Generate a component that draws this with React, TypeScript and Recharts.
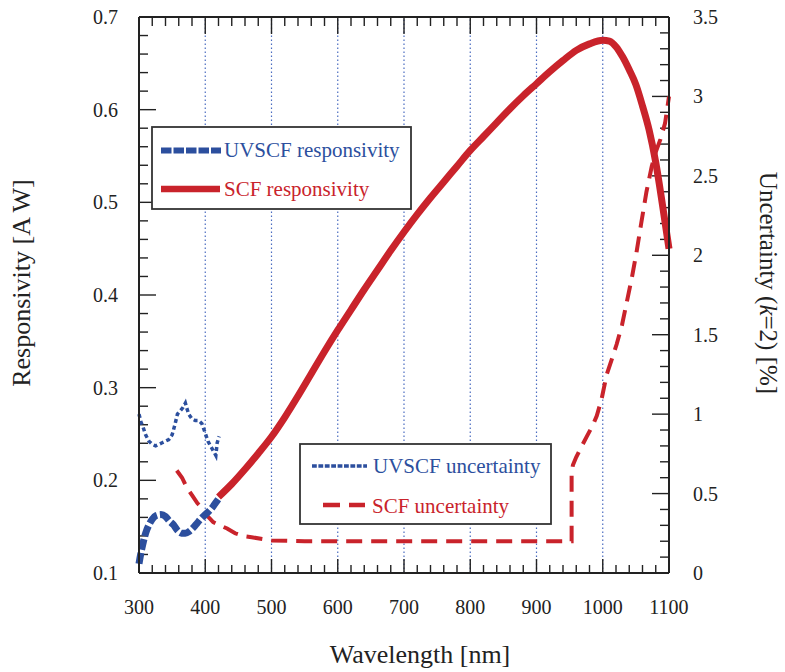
import React from 'react';
import { ComposedChart, Line, XAxis, YAxis, ReferenceLine } from 'recharts';

// ---- data ----
const scfWl = [420, 440, 460, 480, 500, 520, 540, 560, 580, 600, 620, 640, 660, 680, 700, 720, 740, 760, 780, 800, 820, 840, 860, 880, 900, 920, 940, 960, 980, 1000, 1010, 1020, 1030, 1040, 1050, 1060, 1070, 1080, 1090, 1100];
const scfResp = [0.182, 0.196, 0.212, 0.229, 0.247, 0.268, 0.291, 0.315, 0.339, 0.362, 0.384, 0.406, 0.427, 0.448, 0.468, 0.487, 0.505, 0.522, 0.539, 0.556, 0.571, 0.586, 0.601, 0.615, 0.628, 0.641, 0.653, 0.664, 0.671, 0.675, 0.674, 0.668, 0.657, 0.643, 0.627, 0.604, 0.578, 0.543, 0.498, 0.45];

const uvWl = [300, 303, 306, 310, 315, 320, 326, 333, 340, 346, 352, 358, 364, 370, 376, 382, 388, 394, 400, 406, 412, 418, 422];
const uvResp = [0.11, 0.122, 0.132, 0.143, 0.152, 0.158, 0.162, 0.163, 0.161, 0.156, 0.152, 0.146, 0.143, 0.143, 0.145, 0.149, 0.154, 0.159, 0.163, 0.167, 0.172, 0.178, 0.182];

const uvUncWl = [300, 303, 306, 310, 315, 320, 325, 330, 335, 340, 345, 350, 354, 358, 362, 366, 370, 372, 375, 380, 385, 390, 395, 400, 404, 408, 412, 416, 418, 421];
const uvUnc = [1.0, 0.95, 0.92, 0.87, 0.83, 0.81, 0.8, 0.81, 0.82, 0.83, 0.84, 0.87, 0.93, 1.0, 1.02, 1.04, 1.07, 1.04, 1.0, 0.97, 0.96, 0.96, 0.94, 0.88, 0.83, 0.8, 0.77, 0.74, 0.82, 0.86];

const scfUncWl = [357, 365, 372, 380, 388, 395, 403, 412, 422, 433, 445, 458, 470, 500, 550, 953, 953, 955, 960, 966, 976, 985, 991, 998, 1006, 1014, 1021, 1029, 1036, 1044, 1051, 1058, 1066, 1074, 1080, 1087, 1094, 1100];
const scfUnc = [0.645, 0.6, 0.54, 0.49, 0.44, 0.41, 0.36, 0.32, 0.3, 0.28, 0.25, 0.232, 0.225, 0.205, 0.2, 0.2, 0.63, 0.68, 0.73, 0.78, 0.86, 0.93, 0.99, 1.09, 1.25, 1.35, 1.44, 1.56, 1.7, 1.86, 2.02, 2.2, 2.4, 2.56, 2.65, 2.73, 2.83, 3.0];

const gridWl = [400, 500, 600, 700, 800, 900, 1000];
const xLabels = ['300', '400', '500', '600', '700', '800', '900', '1000', '1100'];
const leftLabels = ['0.1', '0.2', '0.3', '0.4', '0.5', '0.6', '0.7'];
const rightLabels = ['0', '0.5', '1', '1.5', '2', '2.5', '3', '3.5'];

// ---- axis ranges ----
const X_MIN = 300, X_MAX = 1100;
const L_MIN = 0.1, L_MAX = 0.7;
const R_MIN = 0, R_MAX = 3.5;

// ---- helpers ----
const zip = (xs: number[], vs: number[]) => xs.map((x, i) => ({ x, v: vs[i] }));
const range = (a: number, b: number, s: number) => {
  const out: number[] = [];
  const n = Math.round((b - a) / s);
  for (let i = 0; i <= n; i++) out.push(Math.round((a + i * s) * 1000) / 1000);
  return out;
};
const xTicks = range(X_MIN, X_MAX, 20);
const leftTicks = range(L_MIN, L_MAX, 0.02);
const rightTicks = range(R_MIN, R_MAX, 0.1);

const BLUE = '#2c4f9e';
const RED = '#c9232b';
const INK = '#222';
const FONT = "'Liberation Serif', 'Times New Roman', serif";

// chart frame (px) used only to express inward tick lengths in axis units
const CW = 785, CH = 672;
const M_TOP = 17, Y_LEFT_W = 139, Y_RIGHT_W = 116, X_H = 99;
const PLOT_W = CW - Y_LEFT_W - Y_RIGHT_W;
const PLOT_H = CH - M_TOP - X_H;
const pxToX = (px: number) => (px * (X_MAX - X_MIN)) / PLOT_W;
const pxToL = (px: number) => (px * (L_MAX - L_MIN)) / PLOT_H;

const majorIdx = (v: number, base: number, step: number) => {
  const k = (v - base) / step;
  return Math.abs(k - Math.round(k)) < 1e-6 ? Math.round(k) : -1;
};

const renderLeftTick = (p: any) => {
  const idx = majorIdx(Number(p.payload.value), 0.1, 0.1);
  if (idx < 0) return <g />;
  return (
    <text x={Number(p.x) - 21} y={Number(p.y)} dy="0.35em" textAnchor="end" fontSize={20} fill={INK} fontFamily={FONT}>
      {leftLabels[idx]}
    </text>
  );
};
const renderRightTick = (p: any) => {
  const idx = majorIdx(Number(p.payload.value), 0, 0.5);
  if (idx < 0) return <g />;
  return (
    <text x={Number(p.x) + 24} y={Number(p.y)} dy="0.35em" textAnchor="start" fontSize={20} fill={INK} fontFamily={FONT}>
      {rightLabels[idx]}
    </text>
  );
};
const renderBottomTick = (p: any) => {
  const idx = majorIdx(Number(p.payload.value), 300, 100);
  if (idx < 0) return <g />;
  return (
    <text x={Number(p.x)} y={Number(p.y) + 41} textAnchor="middle" fontSize={20} fill={INK} fontFamily={FONT}>
      {xLabels[idx]}
    </text>
  );
};

const tickStroke = { stroke: INK, strokeWidth: 1.4 };

export default function App() {
  const axisLine = { stroke: INK, strokeWidth: 2 };
  return (
    <div style={{ position: 'absolute', left: 0, top: 0, width: CW, height: CH, background: '#fff' }}>
      <ComposedChart width={CW} height={CH} margin={{ top: M_TOP, right: 0, bottom: 0, left: 0 }}>
        <XAxis
          dataKey="x"
          type="number"
          domain={[X_MIN, X_MAX]}
          ticks={xTicks}
          interval={0}
          height={X_H}
          tickSize={0}
          tickMargin={0}
          tickLine={false}
          axisLine={axisLine}
          tick={renderBottomTick}
        />
        <YAxis
          yAxisId="left"
          type="number"
          domain={[L_MIN, L_MAX]}
          ticks={leftTicks}
          interval={0}
          width={Y_LEFT_W}
          tickSize={0}
          tickMargin={0}
          tickLine={false}
          axisLine={axisLine}
          tick={renderLeftTick}
        />
        <YAxis
          yAxisId="right"
          orientation="right"
          type="number"
          domain={[R_MIN, R_MAX]}
          ticks={rightTicks}
          interval={0}
          width={Y_RIGHT_W}
          tickSize={0}
          tickMargin={0}
          tickLine={false}
          axisLine={axisLine}
          tick={renderRightTick}
        />
        {/* top frame */}
        <ReferenceLine yAxisId="left" y={L_MAX} stroke={INK} strokeWidth={2} />
        {/* vertical dotted grid */}
        {gridWl.map((g) => (
          <ReferenceLine key={`g${g}`} x={g} yAxisId="left" stroke="#4a6cc0" strokeWidth={1.2} strokeDasharray="1.5 2.5" />
        ))}
        {/* inward tick marks: bottom and top */}
        {xTicks.map((t) => {
          const major = majorIdx(t, 300, 100) >= 0;
          const lb = pxToL(major ? 14 : 8);
          const lt = pxToL(major ? 17 : 9);
          return [
            <ReferenceLine key={`b${t}`} yAxisId="left" segment={[{ x: t, y: L_MIN }, { x: t, y: L_MIN + lb }]} {...tickStroke} />,
            <ReferenceLine key={`t${t}`} yAxisId="left" segment={[{ x: t, y: L_MAX }, { x: t, y: L_MAX - lt }]} {...tickStroke} />,
          ];
        })}
        {/* inward tick marks: left */}
        {leftTicks.map((t) => {
          const major = majorIdx(t, 0.1, 0.1) >= 0;
          return (
            <ReferenceLine key={`l${t}`} yAxisId="left" segment={[{ x: X_MIN, y: t }, { x: X_MIN + pxToX(major ? 17 : 9), y: t }]} {...tickStroke} />
          );
        })}
        {/* inward tick marks: right */}
        {rightTicks.map((t) => {
          const major = majorIdx(t, 0, 0.5) >= 0;
          return (
            <ReferenceLine key={`r${t}`} yAxisId="right" segment={[{ x: X_MAX, y: t }, { x: X_MAX - pxToX(major ? 17 : 9), y: t }]} {...tickStroke} />
          );
        })}
        <Line
          data={zip(scfUncWl, scfUnc)}
          dataKey="v"
          yAxisId="right"
          type="linear"
          stroke={RED}
          strokeWidth={4}
          strokeDasharray="16 9"
          dot={false}
          isAnimationActive={false}
        />
        <Line
          data={zip(uvUncWl, uvUnc)}
          dataKey="v"
          yAxisId="right"
          type="linear"
          stroke={BLUE}
          strokeWidth={3.5}
          strokeDasharray="4 3"
          dot={false}
          isAnimationActive={false}
        />
        <Line
          data={zip(scfWl, scfResp)}
          dataKey="v"
          yAxisId="left"
          type="monotone"
          stroke={RED}
          strokeWidth={7}
          dot={false}
          isAnimationActive={false}
        />
        <Line
          data={zip(uvWl, uvResp)}
          dataKey="v"
          yAxisId="left"
          type="monotone"
          stroke={BLUE}
          strokeWidth={7}
          strokeDasharray="11 3"
          dot={false}
          isAnimationActive={false}
        />
      </ComposedChart>
      <svg width={CW} height={CH} style={{ position: 'absolute', left: 0, top: 0, pointerEvents: 'none' }}>
        {/* legend 1 */}
        <rect x={152} y={127} width={259} height={82} fill="#fff" stroke="#333" strokeWidth={1.8} />
        <line x1={161} x2={221} y1={150.5} y2={150.5} stroke={BLUE} strokeWidth={6} strokeDasharray="10.5 2" />
        <text x={224} y={157} fontSize={21} fill={BLUE} fontFamily={FONT}>UVSCF responsivity</text>
        <line x1={161} x2={220} y1={189} y2={189} stroke={RED} strokeWidth={6.5} />
        <text x={224} y={196} fontSize={21} fill={RED} fontFamily={FONT}>SCF responsivity</text>
        {/* legend 2 */}
        <rect x={300} y={444} width={251} height={80} fill="#fff" stroke="#333" strokeWidth={1.8} />
        <line x1={312} x2={367} y1={466} y2={466} stroke={BLUE} strokeWidth={3.5} strokeDasharray="4.8 1.6" />
        <text x={373} y={473} fontSize={21} fill={BLUE} fontFamily={FONT}>UVSCF uncertainty</text>
        <line x1={323} x2={365} y1={505} y2={505} stroke={RED} strokeWidth={4.5} strokeDasharray="17 9" />
        <text x={372} y={513} fontSize={21} fill={RED} fontFamily={FONT}>SCF uncertainty</text>
        {/* axis titles */}
        <text x={420} y={663} fontSize={26} fill={INK} textAnchor="middle" fontFamily={FONT}>
          Wavelength [nm]
        </text>
        <text transform="translate(30,283) rotate(-90)" fontSize={26} fill={INK} textAnchor="middle" fontFamily={FONT}>
          Responsivity [A W]
        </text>
        <text transform="translate(760,283) rotate(90)" fontSize={25} fill={INK} textAnchor="middle" fontFamily={FONT}>
          Uncertainty (<tspan fontStyle="italic">k</tspan>=2) [%]
        </text>
      </svg>
    </div>
  );
}
